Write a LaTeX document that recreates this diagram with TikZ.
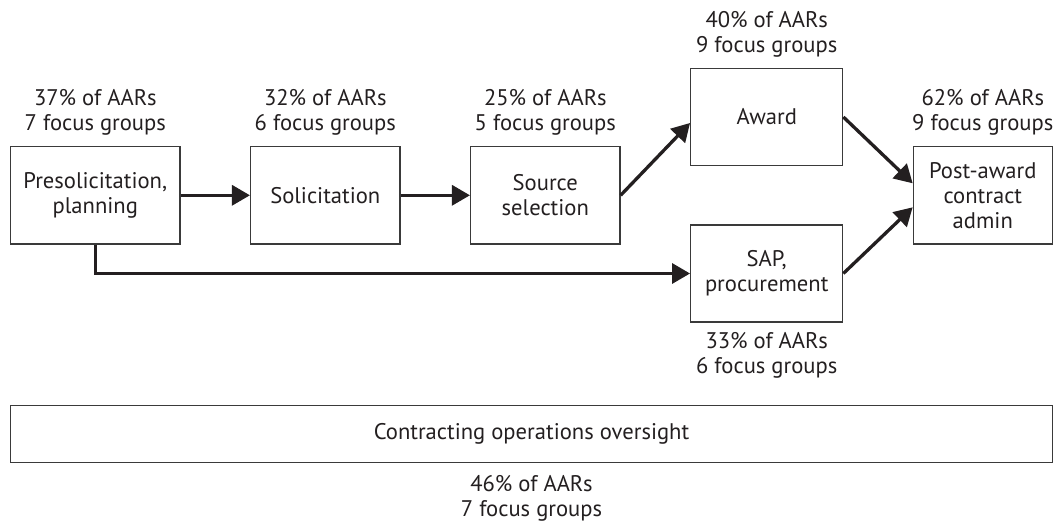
\documentclass[tikz,border=0pt]{standalone}
\usepackage{fontspec}
\setmainfont{PT Sans}
\usetikzlibrary{arrows.meta}
\definecolor{ink}{HTML}{231F20}
\definecolor{frame}{HTML}{3A3A3A}
\tikzset{
  stage/.style={draw=frame, line width=0.65pt, text=ink, align=center, inner sep=0pt, minimum height=48.6pt},
  note/.style={text=ink, align=center, inner sep=0pt},
  flow/.style={draw=ink, line width=1.65pt, -{Triangle[length=9pt,width=10pt]}},
}
\begin{document}
\begin{tikzpicture}[x=0.5pt,y=-0.5pt,font=\fontsize{11.3}{12.5}\selectfont]
    \useasboundingbox (0,0) rectangle (1059,522);
    % stages
    \node[stage,minimum width=84.7pt] (pres) at (95.3,195.3) {Presolicitation,\\planning};
    \node[stage,minimum width=74.7pt] (sol) at (325.3,195.3) {Solicitation};
    \node[stage,minimum width=74.7pt] (src) at (545.3,195.3) {Source\\selection};
    \node[stage,minimum width=76pt] (award) at (766.7,117) {Award};
    \node[stage,minimum width=76pt] (sap) at (766.7,273.5) {SAP,\\procurement};
    \node[stage,minimum width=69.5pt] (post) at (982.8,195.3) {Post-award\\contract\\admin};
    \node[stage,minimum width=520.8pt,minimum height=28.5pt] (over) at (531.5,434.2) {Contracting operations oversight};
    % shares
    \node[note] (presnote) at (95.3,112.5) {37\% of AARs\\7 focus groups};
    \node[note] (solnote) at (325.3,112.5) {32\% of AARs\\6 focus groups};
    \node[note] (srcnote) at (545.3,112.5) {25\% of AARs\\5 focus groups};
    \node[note] (awardnote) at (766.7,34.2) {40\% of AARs\\9 focus groups};
    \node[note] (postnote) at (982.8,112.5) {62\% of AARs\\9 focus groups};
    \node[note] (sapnote) at (766.7,355.5) {33\% of AARs\\6 focus groups};
    \node[note] (overnote) at (531.5,498) {46\% of AARs\\7 focus groups};
    % arrows
    \draw[flow] (pres.east) -- (sol.west);
    \draw[flow] (sol.east) -- (src.west);
    \draw[flow] (src.east) -- ([yshift=-3pt]award.west);
    \draw[flow] (award.east) -- ([yshift=6pt]post.west);
    \draw[flow] (sap.east) -- ([yshift=-6pt]post.west);
    \draw[flow] (pres.south) |- (sap.west);
\end{tikzpicture}
\end{document}
